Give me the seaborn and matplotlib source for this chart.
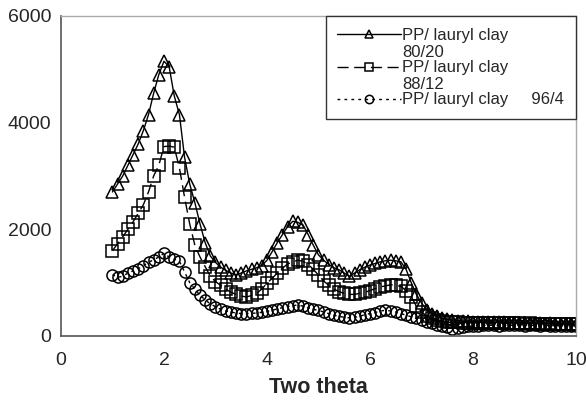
import numpy as np
import pandas as pd
import matplotlib
matplotlib.use("Agg")
import matplotlib.pyplot as plt
import seaborn as sns
from matplotlib.ticker import MultipleLocator

# ---- data ----
two_theta = np.round(np.linspace(1.0, 10.0, 91), 2)

clay_80_20 = [2700, 2850, 3000, 3200, 3400, 3600, 3850, 4150, 4550, 4900,
              5150, 5050, 4500, 4150, 3350, 2850, 2500, 2100, 1750, 1500,
              1380, 1290, 1230, 1180, 1150, 1180, 1220, 1250, 1280, 1320,
              1420, 1580, 1750, 1900, 2050, 2150, 2130, 2080, 1900, 1700,
              1520, 1420, 1340, 1280, 1240, 1180, 1120, 1180, 1240, 1290,
              1330, 1360, 1390, 1410, 1420, 1410, 1390, 1250, 1000, 780,
              620, 490, 420, 370, 330, 310, 300, 290, 280, 275,
              270, 266, 262, 265, 258, 255, 260, 252, 248, 250,
              246, 240, 244, 236, 232, 236, 228, 224, 226, 218, 212]

clay_88_12 = [1600, 1730, 1860, 2000, 2140, 2300, 2460, 2700, 3000, 3200,
              3550, 3560, 3540, 3150, 2600, 2100, 1700, 1480, 1300, 1120,
              1020, 950, 880, 820, 780, 750, 730, 760, 800, 880,
              990, 1080, 1180, 1270, 1350, 1390, 1420, 1400, 1340, 1250,
              1140, 1030, 950, 880, 830, 800, 780, 780, 800, 820,
              850, 890, 920, 940, 960, 950, 930, 850, 740, 560,
              450, 380, 330, 300, 280, 270, 260, 255, 250, 250,
              245, 248, 244, 246, 240, 244, 238, 242, 236, 240,
              234, 238, 230, 234, 228, 232, 226, 228, 222, 224, 218]

clay_96_4 = [1150, 1100, 1120, 1180, 1220, 1260, 1320, 1380, 1430, 1480,
             1550, 1480, 1440, 1400, 1200, 1000, 880, 760, 680, 600,
             550, 500, 470, 450, 430, 420, 420, 425, 430, 445,
             460, 480, 510, 530, 550, 570, 580, 560, 530, 500,
             480, 450, 420, 390, 370, 350, 340, 350, 370, 400,
             420, 440, 470, 480, 470, 450, 420, 390, 360, 330,
             300, 270, 240, 210, 180, 160, 140, 150, 170, 180,
             190, 195, 200, 198, 202, 196, 200, 204, 198, 202,
             196, 200, 198, 194, 198, 192, 196, 190, 194, 192, 190]

series_labels = ["PP/ lauryl clay\n80/20", "PP/ lauryl clay\n88/12",
                 "PP/ lauryl clay     96/4"]
x_ticks = [0, 2, 4, 6, 8, 10]
y_ticks = [0, 2000, 4000, 6000]

df = pd.DataFrame({
    "two_theta": np.concatenate([two_theta] * 3),
    "intensity": np.concatenate([clay_80_20, clay_88_12, clay_96_4]),
    "series": np.repeat(series_labels, len(two_theta)),
})

sns.set_style("white")
plt.rcParams["font.family"] = ["Liberation Sans", "DejaVu Sans"]

fig = plt.figure(figsize=(5.86, 4.08), dpi=100)
ax = fig.add_axes([0.104, 0.1765, 0.879, 0.7845])

styles = [("^", "-"), ("s", (0, (8, 4))), ("o", (0, (2, 3)))]
handles = []
for lab, (mk, ls) in zip(series_labels, styles):
    sub = df[df["series"] == lab]
    sns.lineplot(data=sub, x="two_theta", y="intensity", ax=ax,
                 color="black", linewidth=1.0, linestyle=ls,
                 marker=mk, markersize=8, markerfacecolor="none",
                 markeredgecolor="black", markeredgewidth=1.1,
                 legend=False, errorbar=None, sort=False)
    handles.append(ax.lines[-1])

ax.set_xlim(0, 10)
ax.set_ylim(0, 6000)
ax.set_xticks(x_ticks)
ax.set_yticks(y_ticks)
ax.xaxis.set_minor_locator(MultipleLocator(1))
ax.tick_params(axis="x", which="both", direction="inout", length=7,
               width=1, color="#555555", labelsize=14, pad=8)
ax.tick_params(axis="y", which="major", direction="out", length=5,
               width=1, color="#555555", labelsize=14, pad=2)
ax.set_xlabel("Two theta", fontsize=15.5, fontweight="bold", labelpad=6)
ax.set_ylabel("")

for side in ["left", "bottom"]:
    ax.spines[side].set_color("#555555")
    ax.spines[side].set_linewidth(1.2)
for side in ["top", "right"]:
    ax.spines[side].set_color("#aaaaaa")
    ax.spines[side].set_linewidth(1.0)

leg = ax.legend(handles, series_labels, loc="upper right",
                bbox_to_anchor=(1.0, 1.0), borderaxespad=0, fontsize=12,
                handlelength=3.8, handleheight=1.0, handletextpad=0.1,
                labelspacing=0.0, borderpad=0.7, frameon=True,
                markerscale=0.75,
                fancybox=False, edgecolor="#333333", framealpha=1)
leg.get_frame().set_linewidth(1.0)
for col in leg._legend_handle_box.get_children():
    for row in col.get_children():
        row.align = "top"

fig.savefig("out.png", dpi=100, facecolor="white")
